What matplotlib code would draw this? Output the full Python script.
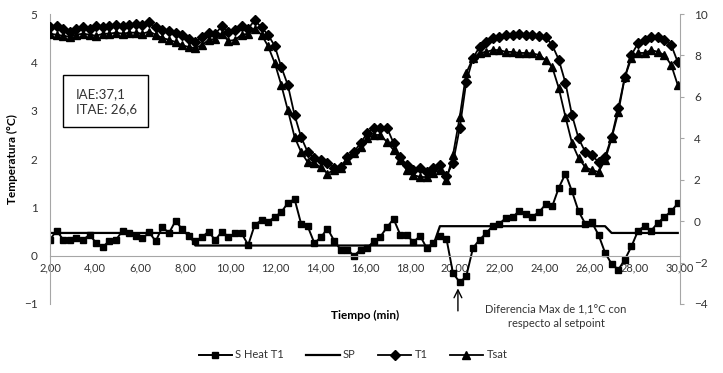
import matplotlib
matplotlib.use('Agg')
import matplotlib.pyplot as plt
from matplotlib.patches import Rectangle

plt.rcParams['font.family'] = ['Lato', 'DejaVu Sans']

# tiempo de muestreo (min)
tiempo = [2.00, 2.29, 2.59, 2.88, 3.17, 3.47, 3.76, 4.06, 4.35, 4.64,
          4.94, 5.23, 5.52, 5.82, 6.11, 6.41, 6.70, 6.99, 7.29, 7.58,
          7.87, 8.17, 8.46, 8.75, 9.05, 9.34, 9.64, 9.93, 10.22, 10.52,
          10.81, 11.10, 11.40, 11.69, 11.99, 12.28, 12.57, 12.87, 13.16, 13.45,
          13.75, 14.04, 14.33, 14.63, 14.92, 15.22, 15.51, 15.80, 16.10, 16.39,
          16.68, 16.98, 17.27, 17.57, 17.86, 18.15, 18.45, 18.74, 19.03, 19.33,
          19.62, 19.91, 20.21, 20.50, 20.80, 21.09, 21.38, 21.68, 21.97, 22.26,
          22.56, 22.85, 23.15, 23.44, 23.73, 24.03, 24.32, 24.61, 24.91, 25.20,
          25.49, 25.79, 26.08, 26.38, 26.67, 26.96, 27.26, 27.55, 27.84, 28.14,
          28.43, 28.72, 29.02, 29.31, 29.61, 29.90]

# eje izquierdo
s_heat = [0.33, 0.52, 0.33, 0.32, 0.37, 0.33, 0.43, 0.26, 0.18, 0.31,
          0.33, 0.52, 0.46, 0.41, 0.36, 0.48, 0.30, 0.59, 0.47, 0.72,
          0.55, 0.40, 0.31, 0.38, 0.50, 0.32, 0.50, 0.39, 0.46, 0.46,
          0.22, 0.64, 0.73, 0.70, 0.80, 0.90, 1.09, 1.17, 0.66, 0.61,
          0.26, 0.38, 0.56, 0.31, 0.12, 0.12, 0.00, 0.12, 0.16, 0.30,
          0.39, 0.59, 0.76, 0.43, 0.43, 0.28, 0.41, 0.16, 0.26, 0.41,
          0.35, -0.36, -0.55, -0.43, 0.16, 0.33, 0.46, 0.62, 0.66, 0.78,
          0.79, 0.93, 0.87, 0.81, 0.90, 1.06, 1.02, 1.40, 1.70, 1.33,
          0.92, 0.66, 0.69, 0.43, 0.06, -0.17, -0.29, -0.08, 0.19, 0.52,
          0.61, 0.52, 0.68, 0.80, 0.92, 1.08]

sp = [0.47, 0.47, 0.47, 0.47, 0.47, 0.47, 0.47, 0.47, 0.47, 0.47,
      0.47, 0.47, 0.47, 0.47, 0.47, 0.47, 0.47, 0.47, 0.47, 0.47,
      0.47, 0.47, 0.21, 0.21, 0.21, 0.21, 0.21, 0.21, 0.21, 0.21,
      0.21, 0.21, 0.21, 0.21, 0.21, 0.21, 0.21, 0.21, 0.21, 0.21,
      0.21, 0.21, 0.21, 0.21, 0.21, 0.21, 0.21, 0.21, 0.21, 0.21,
      0.21, 0.21, 0.21, 0.21, 0.21, 0.21, 0.21, 0.21, 0.21, 0.61,
      0.61, 0.61, 0.61, 0.61, 0.61, 0.61, 0.61, 0.61, 0.61, 0.61,
      0.61, 0.61, 0.61, 0.61, 0.61, 0.61, 0.61, 0.61, 0.61, 0.61,
      0.61, 0.61, 0.61, 0.61, 0.61, 0.47, 0.47, 0.47, 0.47, 0.47,
      0.47, 0.47, 0.47, 0.47, 0.47, 0.47]

# eje derecho
t1 = [9.35, 9.40, 9.30, 9.15, 9.30, 9.35, 9.30, 9.40, 9.35, 9.40,
      9.45, 9.40, 9.45, 9.50, 9.45, 9.60, 9.35, 9.25, 9.20, 9.10,
      9.00, 8.80, 8.65, 8.90, 9.10, 9.05, 9.40, 9.15, 9.25, 9.40,
      9.30, 9.70, 9.35, 9.00, 8.45, 7.44, 6.57, 5.12, 4.06, 3.34,
      3.05, 2.95, 2.80, 2.56, 2.60, 3.10, 3.34, 3.77, 4.25, 4.50,
      4.50, 4.50, 3.77, 3.10, 2.70, 2.47, 2.56, 2.37, 2.56, 2.70,
      2.20, 2.80, 4.50, 6.72, 7.87, 8.41, 8.65, 8.84, 8.89, 8.99,
      9.00, 9.05, 9.00, 8.99, 8.95, 8.89, 8.50, 7.80, 6.67, 5.12,
      4.00, 3.34, 3.19, 2.85, 3.10, 4.06, 5.46, 6.96, 8.02, 8.60,
      8.74, 8.89, 8.89, 8.74, 8.50, 7.68]

tsat = [9.05, 9.00, 8.95, 8.90, 9.00, 9.05, 9.00, 8.95, 9.05, 9.05,
        9.10, 9.05, 9.10, 9.10, 9.05, 9.15, 9.00, 8.85, 8.75, 8.65,
        8.50, 8.40, 8.35, 8.50, 8.75, 8.80, 9.05, 8.70, 8.75, 9.00,
        9.05, 9.30, 9.00, 8.45, 7.63, 6.57, 5.36, 4.06, 3.34, 2.85,
        2.80, 2.60, 2.30, 2.47, 2.56, 2.95, 3.29, 3.58, 4.00, 4.16,
        4.16, 3.82, 3.43, 2.95, 2.47, 2.23, 2.13, 2.13, 2.32, 2.47,
        1.98, 3.19, 5.03, 7.15, 7.87, 8.12, 8.17, 8.26, 8.26, 8.17,
        8.17, 8.12, 8.12, 8.10, 8.02, 7.78, 7.44, 6.43, 5.03, 3.77,
        3.05, 2.60, 2.47, 2.37, 2.95, 4.00, 5.27, 6.96, 7.87, 8.12,
        8.12, 8.26, 8.17, 8.02, 7.54, 6.57]

xticks = [2, 4, 6, 8, 10, 12, 14, 16, 18, 20, 22, 24, 26, 28, 30]
xlabels = ['%.2f' % v for v in xticks]
xlabels = [s.replace('.', ',') for s in xlabels]

gris = '#a6a6a6'
texto = '#333333'

fig = plt.figure(figsize=(7.23, 3.73), dpi=100)
ax = fig.add_axes([50/723, 1-304/373, 630/723, 290/373])
ax2 = ax.twinx()

l1, = ax.plot(tiempo, s_heat, color='black', marker='s', ms=5, lw=1.4, label='S Heat T1')
l2, = ax.plot(tiempo, sp, color='black', lw=1.6, label='SP')
l3, = ax2.plot(tiempo, t1, color='black', marker='D', ms=4.6, lw=1.3, label='T1')
l4, = ax2.plot(tiempo, tsat, color='black', marker='^', ms=5.2, lw=1.3, label='Tsat')

ax.set_xlim(2, 30)
ax.set_ylim(-1, 5)
ax2.set_ylim(-4, 10)
ax.set_xticks(xticks)
ax.set_xticklabels(xlabels)
ax.set_yticks([-1, 0, 1, 2, 3, 4, 5])
ax2.set_yticks([-4, -2, 0, 2, 4, 6, 8, 10])

for a in (ax, ax2):
    a.spines['top'].set_visible(False)
ax.spines['right'].set_visible(False)
ax2.spines['left'].set_visible(False)
ax2.spines['bottom'].set_visible(False)
ax.spines['bottom'].set_position(('data', 0))
ax.spines['bottom'].set_color(gris)
ax.spines['left'].set_color(gris)
ax2.spines['right'].set_color(gris)

ax.tick_params(axis='x', length=0, pad=5, labelsize=8, labelcolor=texto)
ax.tick_params(axis='y', length=0, pad=9, labelsize=8.5, labelcolor=texto)
ax2.tick_params(axis='y', length=3, color=gris, pad=7, labelsize=8.5, labelcolor=texto)

ax.set_ylabel('Temperatura (°C)', fontsize=8.5, fontweight='bold', color='black')
ax.yaxis.set_label_coords((18-50)/630, 0.5)
fig.text(365/723, 1-315/373, 'Tiempo (min)', ha='center', va='center',
         fontsize=8.5, fontweight='bold')

# caja de indices
fig.add_artist(Rectangle((63/723, 1-127/373), 85/723, 52/373, transform=fig.transFigure,
                         facecolor='white', edgecolor='black', lw=1))
fig.text(76/723, 1-102/373, 'IAE:37,1\nITAE: 26,6', ha='left', va='center',
         fontsize=9.5, color=texto, linespacing=1.3)

# flecha
ax.annotate('', xy=(20.13, -0.62), xytext=(20.13, -1.2),
            arrowprops=dict(arrowstyle='->', color='black', lw=1, mutation_scale=14),
            annotation_clip=False)
fig.text(556/723, 1-316/373, 'Diferencia Max de 1,1°C con\nrespecto al setpoint',
         ha='center', va='center', multialignment='center', fontsize=8,
         color=texto, linespacing=1.4)

fig.legend([l1, l2, l3, l4], ['S Heat T1', 'SP', 'T1', 'Tsat'], loc='center',
           bbox_to_anchor=(353/723, 1-355/373), ncol=4, frameon=False, fontsize=8,
           handlelength=3, handletextpad=0.3, columnspacing=2, labelcolor=texto)

fig.savefig('out.png', dpi=100)
